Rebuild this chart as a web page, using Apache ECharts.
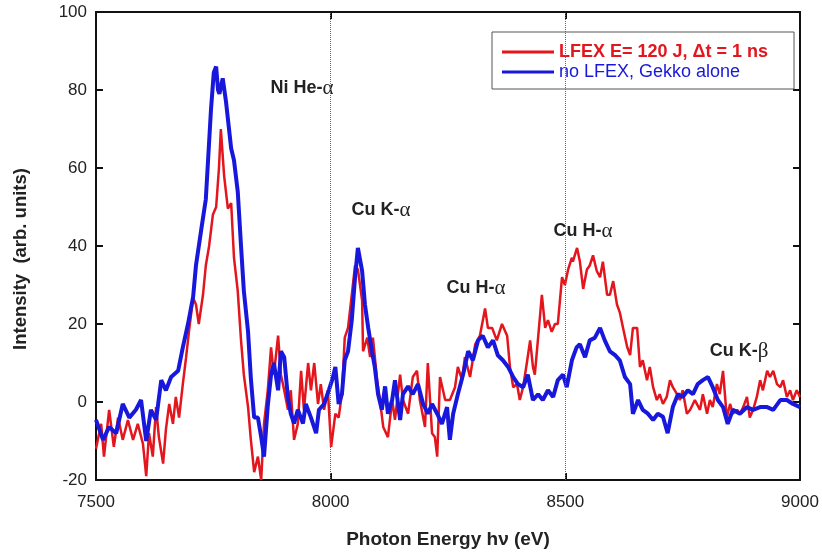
<!DOCTYPE html>
<html>
<head>
<meta charset="utf-8">
<title>Photon energy spectrum</title>
<script src="https://cdn.jsdelivr.net/npm/echarts@6/dist/echarts.min.js"></script>
<style>
  html, body { margin: 0; padding: 0; background: #fff; }
  #main { width: 822px; height: 554px; }
</style>
</head>
<body>
<div id="main"></div>
<script>
// x axis (eV) and y axis ticks
var xTicks = [7500, 8000, 8500, 9000];
var yTicks = [-20, 0, 20, 40, 60, 80, 100];
var refLines = [8000, 8500];

// LFEX E = 120 J, dt = 1 ns (red)
var redE = [7500,7511,7517,7528,7538,7547,7557,7568,7579,7589,7600,7607,7613,7621,7628,7634,7643,7649,7656,7664,
  7670,7677,7685,7692,7698,7707,7713,7719,7728,7734,7741,7749,7756,7762,7766,7773,7781,7788,7794,7802,
  7809,7815,7824,7830,7837,7845,7852,7858,7866,7873,7879,7888,7894,7901,7909,7915,7922,7930,7937,7943,
  7952,7958,7965,7973,7979,7986,7994,8001,8010,8017,8024,8030,8037,8045,8052,8058,8067,8069,8078,8084,
  8090,8099,8105,8112,8122,8131,8137,8148,8154,8165,8175,8184,8190,8201,8207,8216,8222,8227,8233,8244,
  8254,8265,8271,8280,8286,8297,8308,8318,8329,8335,8344,8354,8365,8376,8382,8389,8397,8403,8410,8418,
  8425,8431,8435,8442,8450,8457,8463,8471,8478,8484,8493,8499,8506,8514,8516,8525,8531,8538,8546,8552,
  8559,8567,8574,8580,8589,8595,8602,8610,8616,8623,8632,8638,8644,8653,8659,8665,8674,8680,8687,8695,
  8701,8708,8716,8723,8729,8738,8744,8750,8759,8766,8776,8787,8793,8802,8808,8814,8823,8829,8836,8844,
  8851,8857,8866,8872,8879,8887,8893,8900,8908,8915,8921,8930,8936,8943,8951,8958,8964,8972,8979,8985,
  8993,9000];
var redI = [-12,-5.6,-14,-2,-11.5,-4,-9.7,-4.6,-9.7,-5.6,-10.7,-19,-8,-14,-1.3,-9,-15.8,-7,-0.5,-5.6,
  1.3,-4,4.6,11.5,18,26.7,25,20,27.5,35,40,48,50,60,70,58,49.6,51,37,28.5,
  15.8,7,-1.3,-9.7,-18,-14,-20,-5.6,3,14,7,17,7,3,-2,3,-9.7,-5.6,8,-2,
  10,3,10,-0.5,4.6,-2,3,-11.5,-3,-4,2,16.5,19,27.5,35,34,26,13,16.5,11.5,
  16.5,5.6,0.5,-6.4,-9,0.5,-4.6,7,0.5,-3,6.4,8,0.5,-6.4,10,-8,-9,-14,6.4,0.5,
  0.5,3.8,9,5.6,11.5,6.4,14.8,17,24,19,19,15.8,20,17,9,3.8,4.6,0.5,3.8,10,
  15.8,9,7,16.5,27.5,19,21,18,20,20,32,30,34,37,36,39.5,36,29,34,35,
  37.6,33.6,32,36,27.5,27.5,31,25,23,19,14,12,19,19,9,10.7,5.6,9,3.8,0.5,
  2,-0.5,1.3,5.6,3.8,2,0.5,3,-3,-2,0.5,-2,2,-3,0.5,-1.3,4.6,2,8,-4,
  -0.5,-3,-2,-3,-1.3,1.3,-4,-2,1.3,5.6,3,8,6.4,8,4.6,3.8,5.6,1.3,3,0.5,
  3,1.3];

// no LFEX, Gekko alone (blue)
var blueE = [7500,7515,7528,7543,7557,7571,7585,7596,7607,7617,7628,7639,7649,7660,7675,7685,7696,7707,7713,7724,
  7734,7745,7751,7756,7760,7763,7770,7777,7788,7794,7802,7809,7815,7824,7830,7837,7845,7852,7858,7866,
  7873,7879,7888,7894,7901,7909,7915,7922,7930,7941,7947,7958,7969,7975,7986,7996,8004,8010,8017,8024,
  8030,8037,8045,8052,8058,8067,8073,8080,8088,8094,8101,8109,8116,8122,8131,8137,8148,8154,8165,8175,
  8186,8197,8207,8216,8227,8237,8248,8254,8261,8271,8282,8293,8303,8314,8324,8335,8346,8356,8367,8378,
  8389,8399,8410,8420,8431,8442,8452,8463,8474,8484,8495,8503,8514,8524,8531,8542,8552,8563,8574,8584,
  8595,8606,8616,8627,8638,8644,8655,8665,8676,8687,8697,8708,8718,8729,8740,8750,8761,8772,8782,8793,
  8804,8814,8825,8836,8846,8857,8872,8887,8900,8915,8930,8943,8958,8972,8985,9000];
var blueI = [-4.6,-9.7,-6.4,-8,-0.5,-4,-2,0.5,-10,-2,-4.6,5.6,3,6.4,8,14,20,27,35,44,
  52,75,84.5,86,80,79,83,77,65,62,54,40,28.5,18,6,-4,-4,-9,-14,-1,
  7,10,3,13,11.5,1,-3,-5.5,-2,-5.5,-0.5,-4,-8,-2,-0.5,3,6,9,-0.5,2,
  10.7,13,21,32,39.5,33.6,25,19,13,9,2,-2,4,-3,0.5,5.6,-4.6,2,4,2,
  4.6,-0.5,-3,-0.5,-3,-5.6,-1.3,-9.7,-3,2,7,13,10.7,15.8,17,14,15.8,12,10.7,9,
  6.4,4.6,3.8,7,0.5,2,0.5,3,1.3,5.6,7,3.8,10.7,14,14.8,11.5,15.8,16.5,19,15.8,
  13,12,10.7,6.4,4.6,-3,0.5,-2,-3,-4.6,-3,-3.8,-8,-1.3,2,1.3,3,2,4.6,5.6,
  6.4,3.8,0.5,-1.3,-5.6,-2,-3,-1.3,-2,-1.3,-1.3,-2,0.5,0.5,-0.5,-1.3];

// peak labels: name part + greek letter
var peakNames = ['Ni He-', 'Cu K-', 'Cu H-', 'Cu H-', 'Cu K-'];
var peakGreek = ['\u03b1', '\u03b1', '\u03b1', '\u03b1', '\u03b2'];
var peakPos = [[302, 88], [381, 210], [476, 288], [583, 231], [739, 351]];

var seriesNames = ['LFEX E= 120 J, \u0394t = 1 ns', 'no LFEX, Gekko alone'];
var red = '#e3151d';
var blue = '#1818dc';

function zip(a, b) {
  var out = [];
  for (var i = 0; i < a.length; i++) out.push([a[i], b[i]]);
  return out;
}

var font = '"Liberation Sans", Arial, sans-serif';
var serif = '"Liberation Serif", "DejaVu Serif", serif';

var chart = echarts.init(document.getElementById('main'));

var axisBase = {
  type: 'value',
  axisLine: { show: true, onZero: false, lineStyle: { color: '#111', width: 2 } },
  axisTick: { show: true, inside: true, length: 7, lineStyle: { color: '#111', width: 2 } },
  splitLine: { show: false }
};

var graphics = peakNames.map(function (t, i) {
  return {
    type: 'text',
    x: peakPos[i][0],
    y: peakPos[i][1],
    style: {
      text: '{a|' + t + '}{g|' + peakGreek[i] + '}',
      align: 'center',
      verticalAlign: 'middle',
      rich: {
        a: { fontFamily: font, fontWeight: 'bold', fontSize: 18, fill: '#222', color: '#222' },
        g: { fontFamily: serif, fontWeight: 'normal', fontSize: 21, fill: '#222', color: '#222' }
      }
    }
  };
});

// y axis title (placed a bit below the plot centre, as in the original)
graphics.push({
  type: 'text',
  x: 21,
  y: 259,
  rotation: Math.PI / 2,
  style: {
    text: 'Intensity  (arb. units)',
    align: 'center',
    verticalAlign: 'middle',
    font: 'bold 18.5px ' + font,
    fill: '#222'
  }
});

var option = {
  backgroundColor: '#fff',
  animation: false,
  grid: { left: 96, right: 22, top: 12, bottom: 70, containLabel: false },
  legend: {
    orient: 'vertical',
    left: 492,
    top: 32,
    padding: [11, 26, 8, 10],
    itemGap: 2,
    itemWidth: 52,
    itemHeight: 3,
    icon: 'rect',
    backgroundColor: '#fff',
    borderColor: '#555',
    borderWidth: 1,
    data: [
      { name: seriesNames[0], textStyle: { color: red, fontWeight: 'bold', fontSize: 18, fontFamily: font } },
      { name: seriesNames[1], textStyle: { color: blue, fontWeight: 'normal', fontSize: 18, fontFamily: font } }
    ]
  },
  xAxis: [
    Object.assign({}, axisBase, {
      min: 7500, max: 9000, interval: 500,
      position: 'bottom',
      name: 'Photon Energy h\u03bd (eV)',
      nameLocation: 'middle',
      nameGap: 50,
      nameTextStyle: { fontSize: 19, fontWeight: 'bold', color: '#222', fontFamily: font },
      axisLabel: { margin: 14, fontSize: 17, color: '#222', fontFamily: font,
        formatter: function (v) { return xTicks.indexOf(v) >= 0 ? v : ''; } }
    }),
    Object.assign({}, axisBase, {
      min: 7500, max: 9000, interval: 500,
      position: 'top',
      axisLabel: { show: false }
    })
  ],
  yAxis: [
    Object.assign({}, axisBase, {
      min: -20, max: 100, interval: 20,
      position: 'left',
      axisLabel: { margin: 9, fontSize: 17, color: '#222', fontFamily: font,
        formatter: function (v) { return yTicks.indexOf(v) >= 0 ? v : ''; } }
    }),
    Object.assign({}, axisBase, {
      min: -20, max: 100, interval: 20,
      position: 'right',
      axisLabel: { show: false }
    })
  ],
  series: [
    {
      name: seriesNames[0],
      type: 'line',
      data: zip(redE, redI),
      showSymbol: false,
      symbol: 'none',
      clip: true,
      color: red,
      lineStyle: { color: red, width: 2.5 },
      z: 3,
      markLine: {
        silent: true,
        symbol: 'none',
        label: { show: false },
        lineStyle: { color: '#666', type: 'dotted', width: 1 },
        data: refLines.map(function (v) { return { xAxis: v }; })
      }
    },
    {
      name: seriesNames[1],
      type: 'line',
      data: zip(blueE, blueI),
      showSymbol: false,
      symbol: 'none',
      clip: true,
      color: blue,
      lineStyle: { color: blue, width: 4 },
      z: 4
    }
  ],
  graphic: graphics
};

chart.setOption(option);
</script>
</body>
</html>
